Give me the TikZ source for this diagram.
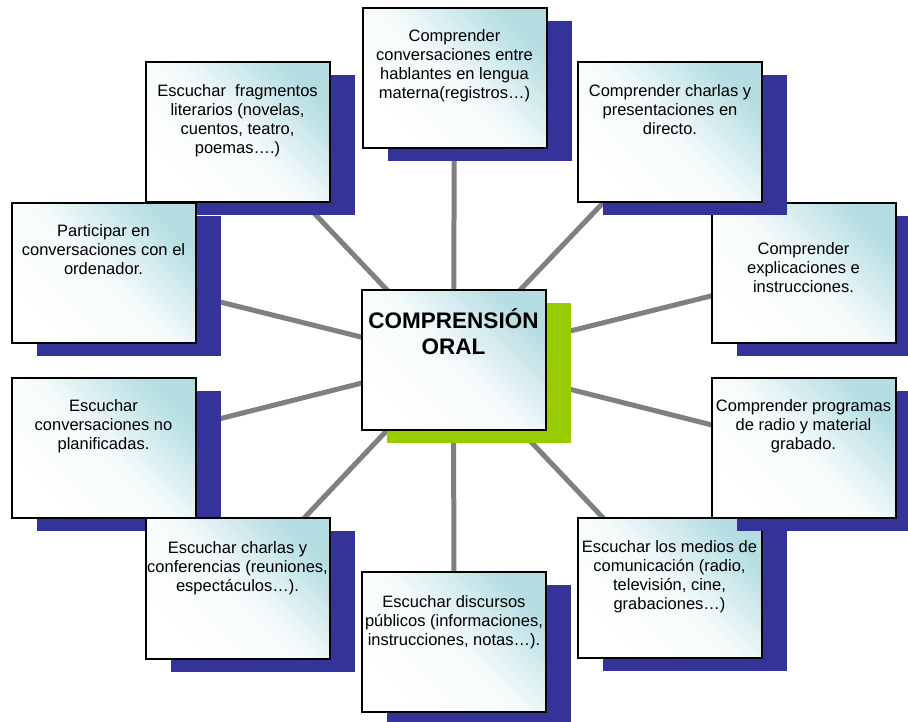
\documentclass[tikz,border=0pt]{standalone}
\usepackage{fontspec}
\setmainfont{Liberation Sans}
\usetikzlibrary{shadows}
\definecolor{navyshade}{RGB}{51,51,153}
\definecolor{limeshade}{RGB}{153,204,0}
\definecolor{spoke}{RGB}{128,128,128}
\definecolor{aqua}{RGB}{180,221,226}
\pgfdeclarelayer{background}
\pgfsetlayers{background,main}
\tikzset{
  panel/.style={draw=black, line width=2pt, minimum width=184pt, minimum height=140pt,
    inner sep=0pt, top color=aqua, bottom color=white, middle color=aqua!12!white,
    shading angle=-45,
    general shadow={fill=#1, shadow xshift=25pt, shadow yshift=-13pt}},
  panel/.default=navyshade,
  % anchored on the baseline of the last line
  caption/.style={anchor=base, align=center, inner sep=0pt,
    font=\fontsize{16.5}{19}\selectfont},
  title/.style={anchor=base, align=center, inner sep=0pt,
    font=\fontsize{22.5}{26}\selectfont\bfseries},
  spokeline/.style={draw=spoke, line width=5pt},
}
\begin{document}
\begin{tikzpicture}[x=1pt, y=1pt]
\useasboundingbox (0,0) rectangle (908,721);

% outer ring of panels
\node[panel] (t) at (454.5,642.5) {};
\node[caption] (t-text) at (454.5,622) {Comprender\\conversaciones entre\\hablantes en lengua\\materna(registros…)};

\node[panel] (tl) at (237.5,588.5) {};
\node[caption] (tl-text) at (237.5,567) {Escuchar~ fragmentos\\literarios (novelas,\\cuentos, teatro,\\poemas….)};

\node[panel] (l) at (103.5,448) {};
\node[caption] (l-text) at (103.5,446) {Participar en\\conversaciones con el\\ordenador.};

\node[panel] (l2) at (103.5,273) {};
\node[caption] (l2-text) at (103.5,271) {Escuchar\\conversaciones no\\planificadas.};

\node[panel] (bl) at (237.5,132.5) {};
\node[caption] (bl-text) at (237.5,130) {Escuchar charlas y\\conferencias (reuniones,\\espectáculos…).};

\node[panel] (b) at (454,79) {};
\node[caption] (b-text) at (454,76) {Escuchar discursos\\públicos (informaciones,\\instrucciones, notas…).};

\node[panel] (br) at (669.5,133) {};
\node[caption] (br-text) at (669.5,112) {Escuchar los medios de\\comunicación (radio,\\televisión, cine,\\grabaciones…)};

\node[panel] (r2) at (803.5,273) {};
\node[caption] (r2-text) at (803.5,271) {Comprender programas\\de radio y material\\grabado.};

\node[panel] (r) at (803.5,448) {};
\node[caption] (r-text) at (803.5,428) {Comprender\\explicaciones e\\instrucciones.};

\node[panel] (tr) at (670,588.5) {};
\node[caption] (tr-text) at (670,586) {Comprender charlas y\\presentaciones en\\directo.};

% central panel
\node[panel=limeshade] (c) at (453.5,361) {};
\node[title] (c-text) at (453.5,366) {COMPRENSIÓN\\ORAL};

% spokes behind everything
\begin{pgfonlayer}{background}
  \fill[white] (0,0) rectangle (908,721);
  \foreach \n in {t,tl,tr,l,r,l2,r2,bl,br,b}
    \draw[spokeline] (c.center) -- (\n.center);
\end{pgfonlayer}
\end{tikzpicture}
\end{document}
